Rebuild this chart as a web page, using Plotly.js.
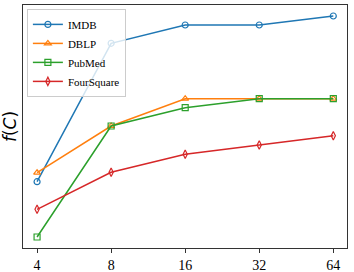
<!DOCTYPE html>
<html><head><meta charset="utf-8">
<script src="https://cdn.plot.ly/plotly-3.0.1.min.js"></script>
<style>html,body{margin:0;padding:0;background:#fff}#c{width:354px;height:272px}</style>
</head><body><div id="c"></div>
<script>
const categories = ['4','8','16','32','64'];
const imdb = [6.63, 20.47, 22.3, 22.3, 23.2];
const dblp = [7.53, 12.2, 14.93, 14.93, 14.93];
const pubmed = [1.1, 12.2, 14.03, 14.93, 14.93];
const foursquare = [3.87, 7.57, 9.37, 10.3, 11.23];
const names = ['IMDB','DBLP','PubMed','FourSquare'];
const series = [imdb, dblp, pubmed, foursquare];
const colors = ['#1f77b4','#ff7f0e','#2ca02c','#d62728'];
const symbols = ['circle-open','triangle-up-open','square-open','diamond-tall-open'];
const traces = series.map((s,i)=>({
  x: categories, y: s, name: names[i], type:'scatter', mode:'lines+markers',
  line:{color:colors[i], width:1.5},
  marker:{symbol:symbols[i], size:6, color:colors[i], line:{width:1.2, color:colors[i]}}
}));
const layout = {
  width:354, height:272,
  margin:{l:23, r:7, t:5, b:24},
  paper_bgcolor:'#fff', plot_bgcolor:'#fff',
  showlegend:true,
  font:{family:'Liberation Serif, Times New Roman, serif', color:'#000'},
  legend:{x:0.012, y:0.984, xanchor:'left', yanchor:'top', bgcolor:'rgba(255,255,255,0.8)',
    bordercolor:'#ccc', borderwidth:1, font:{size:11, family:'Liberation Serif, serif'},
    tracegroupgap:0, itemwidth:30},
  xaxis:{type:'category', range:[-0.19, 4.185], showgrid:false, zeroline:false,
    showline:true, mirror:true, linecolor:'#333', linewidth:1,
    ticks:'outside', ticklen:4, tickcolor:'#333', tickfont:{size:14, family:'Liberation Serif, serif'}},
  yaxis:{range:[0, 24.3], showgrid:false, zeroline:false, showticklabels:false, ticks:'',
    showline:true, mirror:true, linecolor:'#333', linewidth:1,
    title:{text:'<i>f</i>(<i>C</i>)', font:{size:17, family:'DejaVu Sans, sans-serif'}, standoff:2}}
};
Plotly.newPlot('c', traces, layout, {displayModeBar:false, staticPlot:true});
</script></body></html>
